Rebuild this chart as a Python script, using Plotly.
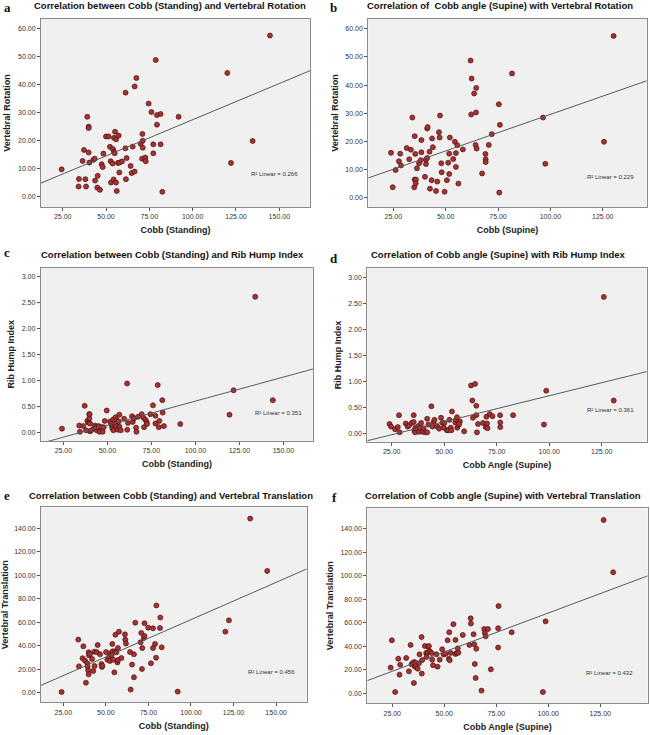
import plotly.graph_objects as go

# ---------------- data ----------------
# Panel a: Cobb (Standing) vs Vertebral Rotation
a_x = [24.4, 34.4, 34.2, 36.5, 37.3, 38.1, 38.5, 39.2, 40.0, 40.0, 40.0, 40.4, 42.7, 43.5, 43.7, 45.2,
       45.0, 46.5, 47.5, 48.1, 48.5, 50.0, 51.5, 52.3, 52.7, 52.9, 53.8, 54.0, 54.6, 54.4, 54.6, 55.2,
       55.0, 55.8, 55.8, 56.2, 57.3, 56.9, 57.7, 57.7, 59.2, 61.2, 61.3, 61.5, 61.9, 64.2, 64.8, 65.4,
       66.5, 66.5, 67.5, 70.0, 71.0, 71.2, 71.2, 70.8, 72.7, 72.9, 74.6, 76.2, 77.3, 77.3, 78.7, 79.4,
       79.4, 81.5, 81.5, 82.5, 91.9, 120.0, 122.1, 134.6, 144.6]
a_y = [9.8, 6.4, 3.7, 12.8, 16.7, 6.3, 3.7, 28.5, 25.0, 24.5, 15.8, 12.2, 13.2, 13.6, 5.8, 7.5,
       3.3, 2.5, 11.6, 10.6, 15.4, 21.5, 21.5, 17.8, 12.7, 5.1, 11.9, 17.0, 16.1, 6.2, 21.0, 23.2,
       15.5, 20.5, 5.1, 2.1, 21.8, 12.1, 12.2, 8.7, 12.6, 17.3, 37.1, 6.3, 13.8, 11.0, 8.5, 17.9,
       39.3, 9.0, 42.3, 18.9, 22.4, 20.0, 17.5, 13.6, 14.0, 12.7, 33.2, 30.2, 18.7, 15.5, 48.7, 29.1,
       25.7, 29.5, 18.7, 1.8, 28.5, 44.1, 12.1, 19.9, 57.4]

# Panel b: Cobb (Supine) vs Vertebral Rotation
b_x = [23.9, 24.7, 26.1, 27.7, 28.3, 28.7, 31.4, 32.6, 33.4, 34.1, 35.2, 35.5, 35.2, 35.0, 35.8, 35.7,
       36.3, 37.3, 38.1, 38.4, 38.4, 40.1, 40.6, 40.6, 41.2, 41.2, 41.4, 42.3, 42.5, 43.3, 43.5, 43.9,
       45.4, 46.0, 46.8, 47.1, 47.3, 47.9, 48.1, 49.5, 50.6, 51.2, 51.7, 51.7, 52.0, 53.6, 54.4, 54.9,
       54.9, 55.6, 56.1, 58.2, 61.9, 62.4, 62.2, 63.6, 64.3, 64.5, 64.6, 64.8, 67.4, 69.0, 69.1, 69.1,
       70.6, 72.0, 75.4, 75.9, 75.6, 81.7, 96.5, 97.6, 125.6, 130.2]
b_y = [16.0, 3.8, 9.9, 13.0, 15.7, 11.5, 17.7, 13.7, 17.1, 28.5, 21.9, 15.6, 6.5, 3.8, 6.5, 5.2,
       10.5, 12.3, 13.4, 20.5, 16.2, 7.5, 12.0, 13.6, 14.2, 24.6, 25.1, 16.4, 3.3, 6.3, 21.1, 18.0,
       2.5, 5.8, 23.3, 21.4, 29.2, 12.3, 9.1, 2.2, 6.3, 12.5, 15.7, 8.5, 21.4, 13.8, 19.9, 15.9,
       11.0, 18.7, 5.1, 17.2, 48.7, 42.3, 29.6, 37.0, 18.8, 30.3, 39.0, 17.5, 8.7, 15.6, 13.7, 12.7,
       18.8, 22.6, 33.2, 25.9, 1.9, 44.1, 28.5, 12.1, 19.9, 57.4]

# Panel c: Cobb (Standing) vs Rib Hump Index
c_x = [24.2, 34.0, 34.4, 36.3, 37.1, 38.6, 39.0, 39.7, 39.7, 39.9, 40.1, 40.8, 40.1, 39.9, 37.9, 42.4,
       43.0, 43.9, 43.6, 45.1, 45.5, 46.6, 47.3, 47.9, 48.5, 49.6, 51.5, 52.1, 52.7, 52.8, 53.4, 53.4,
       54.3, 54.7, 54.9, 55.3, 55.9, 56.4, 56.8, 56.8, 57.6, 59.5, 61.2, 61.3, 61.7, 64.0, 64.4, 65.1,
       66.3, 66.5, 67.4, 69.5, 70.5, 70.8, 71.6, 72.3, 72.5, 74.4, 75.9, 77.3, 77.3, 78.6, 79.2, 79.5,
       81.2, 81.4, 82.1, 91.4, 119.4, 121.7, 134.0, 144.0]
c_y = [0.07, 0.13, 0.01, 0.12, 0.51, 0.22, 0.19, 0.35, 0.27, 0.18, 0.02, 0.04, 0.17, 0.35, 0.04, 0.08,
       0.13, 0.04, 0.10, 0.12, 0.01, 0.10, 0.01, 0.10, 0.22, 0.42, 0.21, 0.16, 0.12, 0.08, 0.04, 0.25,
       0.15, 0.29, 0.12, 0.23, 0.05, 0.21, 0.34, 0.11, 0.04, 0.26, 0.94, 0.05, 0.18, 0.31, 0.20, 0.27,
       0.09, 0.01, 0.30, 0.35, 0.28, 0.10, 0.24, 0.20, 0.16, 0.35, 0.52, 0.32, 0.17, 0.91, 0.10, 0.22,
       0.62, 0.38, 0.12, 0.16, 0.34, 0.81, 2.61, 0.62]

# Panel d: Cobb Angle (Supine) vs Rib Hump Index
d_x = [24.0, 24.7, 26.6, 27.9, 28.5, 28.8, 31.7, 32.6, 33.3, 34.5, 35.5, 35.5, 35.8, 36.1, 36.4, 37.1,
       37.7, 38.0, 38.7, 39.0, 39.6, 40.2, 40.9, 41.9, 41.9, 42.5, 43.9, 44.4, 45.0, 45.4, 46.7, 47.6,
       48.5, 49.1, 49.8, 50.1, 51.3, 51.9, 52.5, 53.1, 53.4, 53.7, 55.3, 55.6, 56.1, 56.2, 56.8, 57.5,
       57.1, 59.5, 62.8, 63.4, 63.7, 64.7, 65.3, 65.3, 65.6, 66.1, 68.5, 69.8, 70.1, 70.4, 70.6, 71.7,
       73.0, 76.6, 76.7, 76.7, 82.8, 97.5, 98.6, 126.0, 130.7]
d_y = [0.18, 0.13, 0.08, 0.12, 0.35, 0.02, 0.19, 0.13, 0.15, 0.20, 0.35, 0.22, 0.06, 0.02, 0.11, 0.09,
       0.14, 0.03, 0.10, 0.20, 0.03, 0.10, 0.02, 0.28, 0.02, 0.17, 0.52, 0.13, 0.22, 0.26, 0.13, 0.09,
       0.30, 0.20, 0.11, 0.20, 0.06, 0.06, 0.26, 0.11, 0.06, 0.42, 0.21, 0.26, 0.31, 0.11, 0.16, 0.23,
       0.18, 0.04, 0.92, 0.63, 0.30, 0.95, 0.53, 0.35, 0.02, 0.18, 0.20, 0.12, 0.32, 0.19, 0.10, 0.37,
       0.33, 0.35, 0.21, 0.12, 0.35, 0.17, 0.82, 2.62, 0.63]

# Panel e: Cobb (Standing) vs Vertebral Translation
e_x = [24.0, 33.8, 34.2, 36.3, 36.8, 37.7, 38.3, 39.1, 39.3, 39.6, 39.9, 39.9, 40.1, 40.7, 41.9, 42.6,
       43.2, 43.4, 44.6, 45.2, 46.6, 47.4, 47.7, 47.9, 50.1, 50.9, 51.8, 52.4, 52.6, 53.4, 53.8, 54.0,
       54.4, 55.0, 55.4, 55.6, 56.2, 56.8, 57.1, 57.1, 57.7, 59.1, 61.2, 61.4, 61.8, 64.2, 64.6, 65.4,
       66.5, 66.5, 67.3, 70.4, 70.8, 71.2, 71.4, 72.3, 72.7, 72.7, 74.9, 76.5, 77.7, 77.7, 78.9, 79.5,
       79.7, 82.0, 81.8, 82.8, 92.2, 120.2, 122.3, 134.8, 144.8]
e_y = [0.6, 45.2, 22.4, 29.3, 39.5, 27.3, 8.5, 25.0, 22.2, 19.1, 15.6, 34.4, 31.8, 33.0, 28.7, 18.5,
       34.9, 22.7, 34.6, 40.6, 32.7, 24.4, 21.9, 23.0, 34.6, 28.1, 30.4, 27.0, 33.5, 32.1, 41.5, 35.2,
       28.1, 17.3, 35.2, 49.4, 34.4, 25.8, 38.0, 27.8, 52.0, 29.5, 49.7, 45.2, 41.8, 34.6, 2.6, 23.9,
       32.7, 13.1, 59.6, 42.9, 50.9, 20.2, 38.0, 46.6, 48.3, 59.1, 55.4, 25.0, 38.0, 54.8, 41.5, 29.8,
       74.3, 64.0, 55.1, 38.6, 0.9, 52.0, 61.6, 148.3, 103.7]

# Panel f: Cobb Angle (Supine) vs Vertebral Translation
f_x = [24.2, 24.8, 26.4, 27.9, 28.5, 28.8, 31.7, 33.0, 33.8, 34.3, 34.9, 35.4, 35.6, 35.9, 36.2, 36.5,
       37.2, 37.8, 38.1, 39.1, 39.2, 39.4, 40.7, 41.3, 41.5, 42.0, 42.3, 42.6, 43.1, 43.9, 44.2, 44.6,
       46.2, 46.8, 47.8, 49.0, 49.7, 50.6, 51.6, 52.2, 52.6, 52.4, 53.1, 54.4, 55.4, 55.4, 56.0, 56.5,
       56.8, 58.9, 62.1, 62.7, 62.8, 64.1, 64.4, 64.7, 65.1, 65.4, 67.9, 69.2, 69.5, 69.9, 71.0, 72.4,
       75.9, 75.9, 76.1, 82.4, 97.4, 98.7, 126.6, 131.2]
f_y = [21.9, 45.2, 1.1, 29.5, 15.9, 24.4, 30.1, 18.7, 41.2, 24.7, 25.8, 8.8, 26.7, 22.7, 25.8, 23.6,
       21.0, 25.6, 33.2, 48.0, 16.8, 28.4, 40.3, 34.4, 31.0, 35.0, 39.8, 40.3, 35.8, 34.4, 28.7, 23.9,
       33.2, 22.7, 28.7, 37.5, 33.0, 33.8, 45.2, 29.5, 28.1, 52.0, 34.4, 58.9, 45.5, 33.5, 34.4, 38.3,
       34.6, 49.7, 41.2, 63.9, 59.4, 50.3, 41.8, 25.0, 13.1, 38.0, 2.3, 54.8, 51.4, 48.6, 54.8, 20.4,
       55.4, 39.0, 74.3, 52.0, 1.1, 61.3, 147.6, 103.1]

# Linear fit lines (intercept, slope) and R² labels
fits = {
    "a": (1.69, 0.2577, "0.266"),
    "b": (3.72, 0.2588, "0.229"),
    "c": (-0.324, 0.00925, "0.351"),
    "d": (-0.275, 0.00998, "0.361"),
    "e": (-1.3, 0.635, "0.456"),
    "f": (2.2, 0.662, "0.432"),
}

titles = {
    "a": "Correlation between Cobb (Standing) and Vertebral Rotation",
    "b": "Correlation of  Cobb angle (Supine) with Vertebral Rotation",
    "c": "Correlation between Cobb (Standing) and Rib Hump Index",
    "d": "Correlation of Cobb angle (Supine) with Rib Hump Index",
    "e": "Correlation between Cobb (Standing) and Vertebral Translation",
    "f": "Correlation of Cobb angle (Supine) with Vertebral Translation",
}
x_titles = {"a": "Cobb (Standing)", "b": "Cobb (Supine)", "c": "Cobb (Standing)",
            "d": "Cobb Angle (Supine)", "e": "Cobb (Standing)", "f": "Cobb Angle (Supine)"}
y_titles = {"a": "Vertebral Rotation", "b": "Vertebral Rotation", "c": "Rib Hump Index",
            "d": "Rib Hump Index", "e": "Vertebral Translation", "f": "Vertebral Translation"}

x_ticks_standing = [25, 50, 75, 100, 125, 150]
x_ticks_supine = [25, 50, 75, 100, 125]
y_ticks_rot = [0, 10, 20, 30, 40, 50, 60]
y_ticks_rib = [0, 0.5, 1.0, 1.5, 2.0, 2.5, 3.0]
y_ticks_tr = [0, 20, 40, 60, 80, 100, 120, 140]

data = {"a": (a_x, a_y), "b": (b_x, b_y), "c": (c_x, c_y),
        "d": (d_x, d_y), "e": (e_x, e_y), "f": (f_x, f_y)}

# ---------------- layout (styles / positions) ----------------
W, H = 650, 735
panels = {
    "a": dict(box=(41, 310, 19, 207), xr=(12.5, 167.7), yr=(-3.6, 63.3),
              xt=x_ticks_standing, yt=y_ticks_rot, r2=(147, 8.2)),
    "b": dict(box=(368.3, 646.7, 19, 207), xr=(13.06, 146.0), yr=(-3.2, 63.4),
              xt=x_ticks_supine, yt=y_ticks_rot, r2=(128.5, 7.5)),
    "c": dict(box=(40.7, 313.3, 267.7, 441), xr=(12.1, 167.0), yr=(-0.167, 3.17),
              xt=x_ticks_standing, yt=y_ticks_rib, r2=(147.2, 0.38)),
    "d": dict(box=(367.3, 646.7, 268.3, 441.7), xr=(13.4, 146.4), yr=(-0.16, 3.17),
              xt=x_ticks_supine, yt=y_ticks_rib, r2=(129, 0.44)),
    "e": dict(box=(41, 306.7, 507.3, 702.3), xr=(11.9, 168.0), yr=(-8.2, 157.9),
              xt=x_ticks_standing, yt=y_ticks_tr, r2=(147.4, 17.9)),
    "f": dict(box=(367.3, 647.7, 508.3, 703.3), xr=(13.0, 147.8), yr=(-8.5, 157.6),
              xt=x_ticks_supine, yt=y_ticks_tr, r2=(129.2, 17.6)),
}
title_pos = {"a": (170, 6), "b": (500, 6), "c": (173, 255), "d": (498, 255),
             "e": (171, 495), "f": (503, 495)}
letter_pos = {"a": (2, 7.5), "b": (328, 7.5), "c": (2, 252), "d": (328, 258),
              "e": (2, 495), "f": (330, 497)}

fig = go.Figure()
annotations = []
layout_axes = {}
FONT = "Arial, 'Liberation Sans', sans-serif"

for i, key in enumerate(["a", "b", "c", "d", "e", "f"], start=1):
    p = panels[key]
    l, r, t, b = p["box"]
    xs = "" if i == 1 else str(i)
    xa, ya = "x" + xs, "y" + xs
    xd = [l / W, r / W]
    yd = [1 - b / H, 1 - t / H]
    layout_axes["xaxis" + xs] = dict(
        domain=xd, range=list(p["xr"]), anchor=ya, tickvals=p["xt"],
        ticktext=[f"{v:.2f}" for v in p["xt"]], showgrid=False, zeroline=False,
        showline=True, linecolor="#8a8a8a", linewidth=1, mirror=True,
        ticks="outside", ticklen=3, tickcolor="#555555", tickwidth=1,
        tickfont=dict(size=7, color="#333333", family=FONT),
        title=dict(text=f"<b>{x_titles[key]}</b>", font=dict(size=9, color="#222222", family=FONT),
                   standoff=7),
    )
    layout_axes["yaxis" + xs] = dict(
        domain=yd, range=list(p["yr"]), anchor=xa, tickvals=p["yt"],
        ticktext=[f"{v:.2f}" for v in p["yt"]], showgrid=False, zeroline=False,
        showline=True, linecolor="#8a8a8a", linewidth=1, mirror=True,
        ticks="outside", ticklen=3, tickcolor="#555555", tickwidth=1,
        tickfont=dict(size=7, color="#333333", family=FONT),
        title=dict(text=f"<b>{y_titles[key]}</b>", font=dict(size=9, color="#222222", family=FONT),
                   standoff=5),
    )
    xv, yv = data[key]
    fig.add_trace(go.Scatter(
        x=xv, y=yv, mode="markers", xaxis=xa, yaxis=ya, showlegend=False, hoverinfo="skip",
        marker=dict(size=5, color="#a83232", line=dict(color="#4a1010", width=0.7)),
    ))
    b0, b1, r2 = fits[key]
    x0, x1 = p["xr"]
    fig.add_trace(go.Scatter(
        x=[x0, x1], y=[b0 + b1 * x0, b0 + b1 * x1], mode="lines", xaxis=xa, yaxis=ya,
        showlegend=False, hoverinfo="skip", line=dict(color="#5a5a5a", width=1),
    ))
    annotations.append(dict(
        x=p["r2"][0], y=p["r2"][1], xref=xa, yref=ya, showarrow=False,
        text=f"R² Linear = {r2}", font=dict(size=6, color="#333333", family=FONT),
    ))
    tx, ty = title_pos[key]
    annotations.append(dict(
        x=tx / W, y=1 - ty / H, xref="paper", yref="paper", showarrow=False,
        xanchor="center", yanchor="middle", text=f"<b>{titles[key]}</b>",
        font=dict(size=9.5, color="#111111", family=FONT),
    ))
    lx, ly = letter_pos[key]
    annotations.append(dict(
        x=lx / W, y=1 - ly / H, xref="paper", yref="paper", showarrow=False,
        xanchor="left", yanchor="middle", text=f"<b>{key}</b>",
        font=dict(size=13, color="#111111", family="'Liberation Serif', 'Times New Roman', serif"),
    ))

fig.update_layout(
    width=W, height=H, margin=dict(l=0, r=0, t=0, b=0),
    paper_bgcolor="white", plot_bgcolor="#f0f0f0",
    annotations=annotations, **layout_axes,
)
fig.write_html(
    "out.html",
    config={"displayModeBar": False},
    post_script="document.body.style.margin='0';document.body.style.padding='0';"
                "document.documentElement.style.overflow='hidden';",
)
